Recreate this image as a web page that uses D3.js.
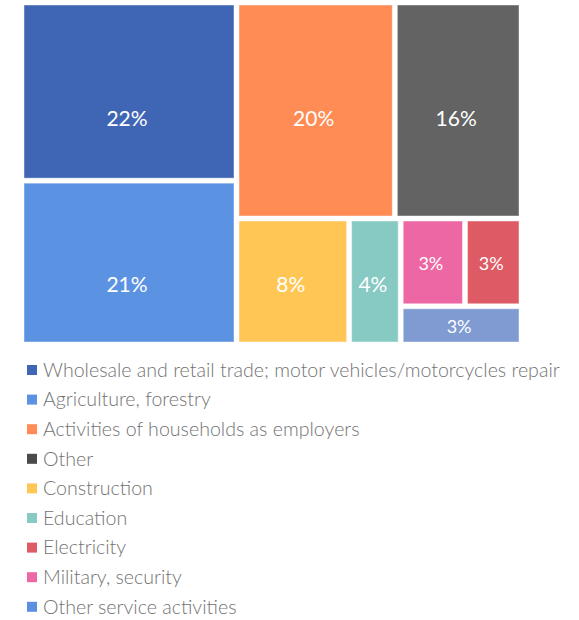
<!DOCTYPE html>
<html>
<head>
<meta charset="utf-8">
<script src="https://cdn.jsdelivr.net/npm/d3@7"></script>
<style>
  body { margin: 0; background: #fff; }
  svg { display: block; }
</style>
</head>
<body>
<svg id="chart" width="579" height="620"></svg>
<script>
// sectors, in legend order
var names = [
  'Wholesale and retail trade; motor vehicles/motorcycles repair',
  'Agriculture, forestry',
  'Activities of households as employers',
  'Other',
  'Construction',
  'Education',
  'Electricity',
  'Military, security',
  'Other service activities'
]
// share of employment, %
var values = [22.4, 20.6, 20.0, 16.0, 8.3, 3.8, 2.9, 3.3, 2.7]
var cellColors = ['#3f66b5', '#5b92e2', '#ff8c55', '#636363', '#ffc655', '#87c9c3', '#de5b66', '#ec67a4', '#7f9bd1']
var legendColors = ['#3f66b5', '#5b92e2', '#ff8c55', '#4a4a4a', '#ffc655', '#87c9c3', '#de5b66', '#ec67a4', '#5b8fe0']
// how the tiles are grouped (indexes into names)
var grouping = [[0, 1], [[2, 3], [4, 5, [[7, 6], 8]]]]

var svg = d3.select('#chart')
var fmt = d3.format('.0f')

function build (g) {
  if (Array.isArray(g)) return { children: g.map(build) }
  return { idx: g, name: names[g], value: values[g] }
}

var root = d3.hierarchy(build(grouping)).sum(function (d) { return d.value || 0 })

d3.treemap()
  .tile(d3.treemapSliceDice)
  .size([495, 337])
  .paddingInner(5)
  .round(false)(root)

var g = svg.append('g').attr('transform', 'translate(24,5)')

var leaves = root.leaves()
var rows = root.children[1].children

g.selectAll('rect.cell')
  .data(leaves)
  .enter().append('rect')
  .attr('class', 'cell')
  .attr('x', function (d) { return d.x0 })
  .attr('y', function (d) { return d.y0 })
  .attr('width', function (d) { return d.x1 - d.x0 })
  .attr('height', function (d) { return d.y1 - d.y0 })
  .attr('fill', function (d) { return cellColors[d.data.idx] })
  .attr('stroke', 'rgba(255,255,255,0.45)')
  .attr('stroke-width', 1)

// labels of the big tiles line up with the row they sit in
function labelY (d) {
  var cy = (d.y0 + d.y1) / 2
  if (d.depth > 3) return cy + 1.5
  rows.forEach(function (r) {
    if (cy >= r.y0 && cy <= r.y1) cy = (r.y0 + r.y1) / 2 + (r.y1 - r.y0) * 0.06 - 4.5
  })
  return cy
}

g.selectAll('text.lbl')
  .data(leaves)
  .enter().append('text')
  .attr('class', 'lbl')
  .attr('x', function (d) { return (d.x0 + d.x1) / 2 - 2 })
  .attr('y', labelY)
  .attr('dy', '0.35em')
  .attr('text-anchor', 'middle')
  .attr('fill', '#fff')
  .style('font-family', 'Lato, "Open Sans", sans-serif')
  .style('font-size', function (d) { return (d.y1 - d.y0) > 100 ? '21px' : '18px' })
  .text(function (d) { return fmt(d.data.value) + '%' })

// legend
var legend = svg.append('g').attr('transform', 'translate(27,370)')
var item = legend.selectAll('g.item')
  .data(names)
  .enter().append('g')
  .attr('class', 'item')
  .attr('transform', function (d, i) { return 'translate(0,' + (i * 29.6) + ')' })

item.append('rect')
  .attr('x', 0)
  .attr('y', -5)
  .attr('width', 10)
  .attr('height', 10)
  .attr('fill', function (d, i) { return legendColors[i] })

item.append('text')
  .attr('x', 16)
  .attr('y', 0)
  .attr('dy', '0.35em')
  .attr('fill', '#737373')
  .style('font-family', 'Lato, "Open Sans", sans-serif')
  .style('font-weight', 300)
  .style('font-size', '19.6px')
  .text(function (d) { return d })
</script>
</body>
</html>
